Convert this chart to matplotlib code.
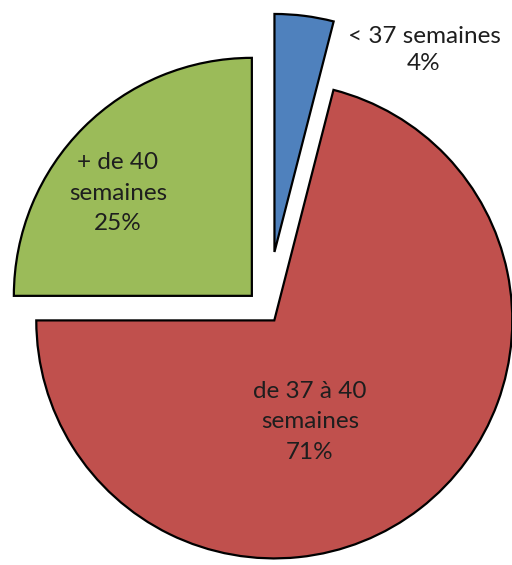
import matplotlib
matplotlib.use("Agg")
import matplotlib.pyplot as plt

categories = ["< 37 semaines", "de 37 à 40\nsemaines", "+ de 40\nsemaines"]
values = [4, 71, 25]
colors = ["#4F81BD", "#C0504D", "#9BBB59"]
explode = [0.25, 0.05, 0.09]

fig = plt.figure(figsize=(5.12, 5.65), dpi=100)
ax = fig.add_axes([0, 0, 1, 1])
wedges, _ = ax.pie(values, colors=colors, explode=explode, startangle=90,
                   counterclock=False, radius=1.0,
                   wedgeprops=dict(edgecolor="black", linewidth=1.6))
cx, cy, R = 267, 311, 238
ax.set_xlim(-cx / R, (512 - cx) / R)
ax.set_ylim(-(565 - cy) / R, cy / R)
ax.set_aspect("auto")
ax.axis("off")

label_pos = [(424, 50), (310, 422), (118, 193)]
spacings = [1.4, 1.55, 1.55]
for cat, v, (px, py), ls in zip(categories, values, label_pos, spacings):
    ax.text((px - cx) / R, (cy - py) / R, f"{cat}\n{v}%", ha="center", va="center",
            fontsize=17.5, family=["Lato", "DejaVu Sans"], color="#1e1e1e",
            linespacing=ls)

fig.savefig("out.png", dpi=100)
